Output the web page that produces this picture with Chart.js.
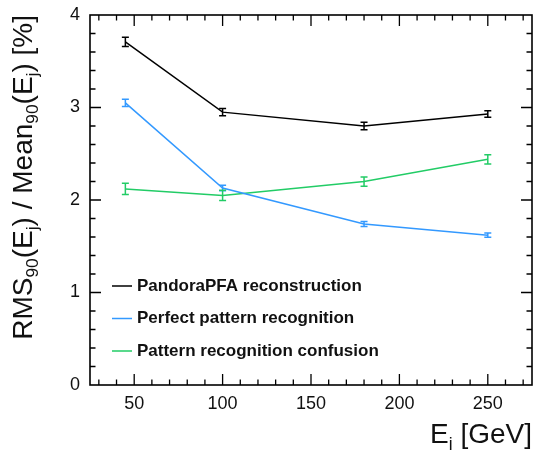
<!DOCTYPE html>
<html>
<head>
<meta charset="utf-8">
<script src="https://cdn.jsdelivr.net/npm/chart.js@4.4.0/dist/chart.umd.min.js"></script>
<style>
  html, body { margin: 0; padding: 0; background: #fff; }
  canvas { display: block; }
</style>
</head>
<body>
<canvas id="c" width="536" height="450"></canvas>
<script>
// jet energies [GeV]
const energies = [45, 100, 180, 250];

const seriesLabels = ['PandoraPFA reconstruction', 'Perfect pattern recognition', 'Pattern recognition confusion'];
const seriesColors = ['#000000', '#3399ff', '#22cc66'];

// RMS90/Mean90 [%]
const pandoraValues = [3.71, 2.95, 2.80, 2.93];
const perfectValues = [3.05, 2.13, 1.74, 1.62];
const confusionValues = [2.12, 2.05, 2.20, 2.44];

const pandoraErrors = [0.05, 0.04, 0.04, 0.035];
const perfectErrors = [0.04, 0.03, 0.027, 0.024];
const confusionErrors = [0.06, 0.055, 0.05, 0.05];

const xTickValues = [50, 100, 150, 200, 250];
const yTickValues = [0, 1, 2, 3, 4];

const FONT = '"Liberation Sans", Arial, Helvetica, sans-serif';

function makeSet(i, values, errors) {
    return {
        label: seriesLabels[i],
        data: energies.map((e, k) => ({ x: e, y: values[k] })),
        errors: errors,
        borderColor: seriesColors[i],
        borderWidth: 1.5,
        pointRadius: 0,
        tension: 0,
        fill: false
    };
}

// draw pieces of text with subscripts, returns total width
function drawRich(ctx, parts, x, y, size, measureOnly) {
    let cx = x;
    parts.forEach(p => {
        const s = p.sub ? size * 0.62 : size;
        ctx.font = s + 'px ' + FONT;
        const w = ctx.measureText(p.t).width;
        if (!measureOnly) ctx.fillText(p.t, cx, y + (p.sub ? size * 0.22 : 0));
        cx += w;
    });
    return cx - x;
}

const rootStyle = {
    id: 'rootStyle',
    afterDatasetsDraw(chart) {
        const ctx = chart.ctx;
        const a = chart.chartArea;
        const xs = chart.scales.x;
        const ys = chart.scales.y;

        // error bars
        chart.data.datasets.forEach(ds => {
            ctx.save();
            ctx.strokeStyle = ds.borderColor;
            ctx.lineWidth = 1.5;
            ds.data.forEach((p, k) => {
                const px = xs.getPixelForValue(p.x);
                const y1 = ys.getPixelForValue(p.y + ds.errors[k]);
                const y2 = ys.getPixelForValue(p.y - ds.errors[k]);
                ctx.beginPath();
                ctx.moveTo(px, y1); ctx.lineTo(px, y2);
                ctx.moveTo(px - 3.5, y1); ctx.lineTo(px + 3.5, y1);
                ctx.moveTo(px - 3.5, y2); ctx.lineTo(px + 3.5, y2);
                ctx.stroke();
            });
            ctx.restore();
        });

        ctx.save();
        ctx.strokeStyle = '#000';
        ctx.lineWidth = 1.6;
        ctx.strokeRect(a.left, a.top, a.right - a.left, a.bottom - a.top);

        // inward ticks on all four sides
        ctx.lineWidth = 1.3;
        ctx.beginPath();
        for (let v = 30; v <= 270; v += 10) {
            const px = xs.getPixelForValue(v);
            const len = (v % 50 === 0) ? 11 : 5.5;
            ctx.moveTo(px, a.bottom); ctx.lineTo(px, a.bottom - len);
            ctx.moveTo(px, a.top); ctx.lineTo(px, a.top + len);
        }
        for (let k = 1; k < 20; k++) {
            const v = k * 0.2;
            const py = ys.getPixelForValue(v);
            const len = (k % 5 === 0) ? 11 : 5.5;
            ctx.moveTo(a.left, py); ctx.lineTo(a.left + len, py);
            ctx.moveTo(a.right, py); ctx.lineTo(a.right - len, py);
        }
        ctx.stroke();

        // legend
        chart.data.datasets.forEach((ds, i) => {
            const ly = 286 + i * 32.5;
            ctx.strokeStyle = ds.borderColor;
            ctx.lineWidth = 1.5;
            ctx.beginPath();
            ctx.moveTo(112, ly); ctx.lineTo(132, ly);
            ctx.stroke();
            ctx.fillStyle = '#111';
            ctx.font = 'bold 17px ' + FONT;
            ctx.textBaseline = 'middle';
            ctx.textAlign = 'left';
            ctx.fillText(ds.label, 137, ly);
        });

        // axis titles
        ctx.fillStyle = '#111';
        ctx.textBaseline = 'alphabetic';
        ctx.textAlign = 'left';
        const xParts = [{ t: 'E' }, { t: 'j', sub: true }, { t: ' [GeV]' }];
        const xw = drawRich(ctx, xParts, 0, 0, 28, true);
        drawRich(ctx, xParts, a.right - xw, 443, 28, false);

        const yParts = [
            { t: 'RMS' }, { t: '90', sub: true }, { t: '(E' }, { t: 'j', sub: true },
            { t: ') / Mean' }, { t: '90', sub: true }, { t: '(E' }, { t: 'j', sub: true }, { t: ') [%]' }
        ];
        const yw = drawRich(ctx, yParts, 0, 0, 28, true);
        ctx.translate(32, 15);
        ctx.rotate(-Math.PI / 2);
        drawRich(ctx, yParts, -yw, 0, 28, false);
        ctx.restore();
    }
};

new Chart(document.getElementById('c'), {
    type: 'line',
    data: {
        datasets: [
            makeSet(0, pandoraValues, pandoraErrors),
            makeSet(1, perfectValues, perfectErrors),
            makeSet(2, confusionValues, confusionErrors)
        ]
    },
    options: {
        responsive: false,
        animation: false,
        layout: { padding: { top: 15, right: 4, left: 0, bottom: 0 } },
        plugins: { legend: { display: false }, tooltip: { enabled: false } },
        scales: {
            x: {
                type: 'linear',
                min: 25,
                max: 275,
                grid: { display: false, drawTicks: false },
                border: { display: false },
                afterBuildTicks: s => { s.ticks = xTickValues.map(v => ({ value: v })); },
                afterFit: s => { s.height = 65; s.paddingLeft = 0; s.paddingRight = 0; },
                ticks: { color: '#111', padding: 8, maxRotation: 0, font: { family: FONT, size: 18 } }
            },
            y: {
                type: 'linear',
                min: 0,
                max: 4,
                grid: { display: false, drawTicks: false },
                border: { display: false },
                afterBuildTicks: s => { s.ticks = yTickValues.map(v => ({ value: v })); },
                afterFit: s => { s.width = 90; s.paddingTop = 0; s.paddingBottom = 0; },
                ticks: { color: '#111', padding: 10, font: { family: FONT, size: 18 } }
            }
        }
    },
    plugins: [rootStyle]
});
</script>
</body>
</html>
